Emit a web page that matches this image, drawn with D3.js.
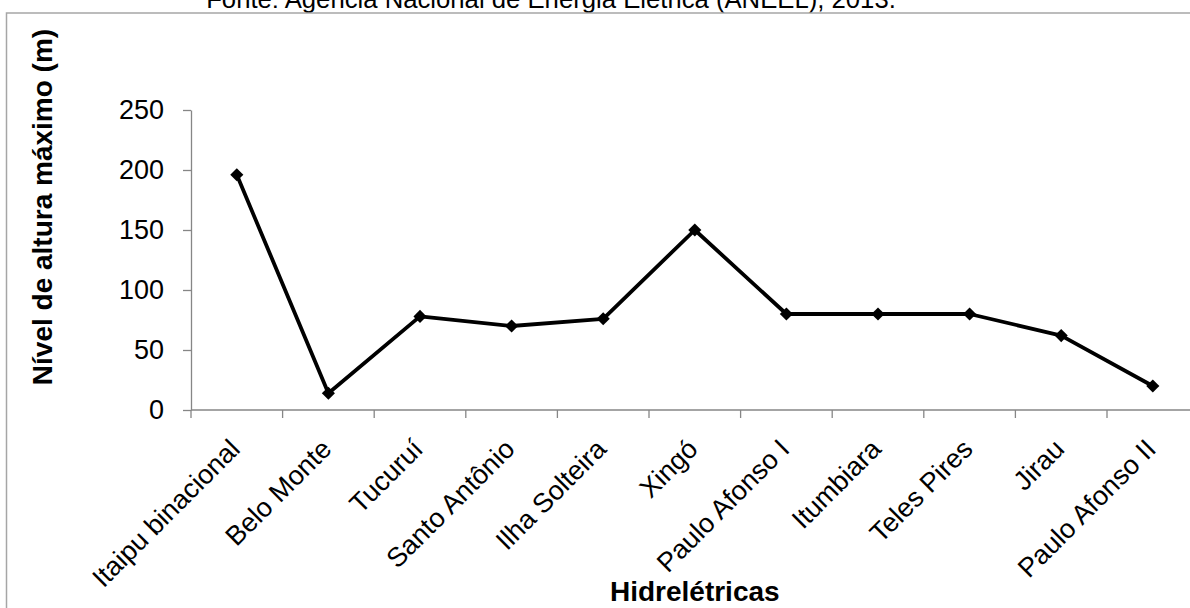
<!DOCTYPE html>
<html>
<head>
<meta charset="utf-8">
<script src="https://cdn.jsdelivr.net/npm/d3@7"></script>
<style>
  html, body { margin: 0; padding: 0; background: #fff; }
  svg { display: block; font-family: "Liberation Sans", Arial, sans-serif; }
</style>
</head>
<body>
<svg id="chart" width="1190" height="608"></svg>
<script>
// Maximum dam height of Brazilian hydroelectric plants
const plants = ["Itaipu binacional", "Belo Monte", "Tucuruí", "Santo Antônio", "Ilha Solteira",
                "Xingó", "Paulo Afonso I", "Itumbiara", "Teles Pires", "Jirau", "Paulo Afonso II"];
const heights = [196, 14, 78, 70, 76, 150, 80, 80, 80, 62, 20];
const yTicks = [0, 50, 100, 150, 200, 250];

const sourceText = "Fonte: Agência Nacional de Energia Elétrica (ANEEL), 2013.";
const xTitle = "Hidrelétricas";
const yTitle = "Nível de altura máximo (m)";

const svg = d3.select("#chart");
const W = 1190, H = 608;
const plot = { left: 191, top: 110, bottom: 410, band: 91.6 };

svg.append("rect").attr("width", W).attr("height", H).attr("fill", "#fff");

// source line above the chart frame
svg.append("text")
  .attr("x", 551).attr("y", 8)
  .attr("text-anchor", "middle")
  .attr("font-size", 25.7)
  .text(sourceText);

// chart frame
svg.append("rect")
  .attr("x", 6.5).attr("y", 13)
  .attr("width", 1300).attr("height", 700)
  .attr("fill", "none")
  .attr("stroke", "#a6a6a6")
  .attr("stroke-width", 1.5);

const x = d3.scaleBand()
  .domain(plants)
  .range([plot.left, plot.left + plot.band * plants.length])
  .paddingInner(0).paddingOuter(0);

const y = d3.scaleLinear().domain([0, 250]).range([plot.bottom, plot.top]);

const axisColor = "#868686";

// y axis
const yAxis = svg.append("g")
  .attr("transform", `translate(${plot.left},0)`)
  .call(d3.axisLeft(y).tickValues(yTicks).tickSize(8).tickPadding(19).tickSizeOuter(0));
yAxis.select(".domain").attr("stroke", axisColor).attr("stroke-width", 1.3);
yAxis.selectAll(".tick line").attr("stroke", axisColor).attr("stroke-width", 1.3);
yAxis.selectAll(".tick text")
  .attr("font-size", 27)
  .attr("font-family", "Liberation Sans, Arial, sans-serif")
  .attr("fill", "#000");

// x axis: ticks between categories
const xAxisG = svg.append("g").attr("transform", `translate(0,${plot.bottom})`);
xAxisG.append("line")
  .attr("x1", plot.left).attr("x2", W)
  .attr("stroke", axisColor).attr("stroke-width", 1.3);
const boundaries = plants.map(p => x(p)).concat([x(plants[plants.length - 1]) + x.bandwidth()]);
xAxisG.selectAll("line.tk").data(boundaries).join("line")
  .attr("class", "tk")
  .attr("x1", d => d).attr("x2", d => d)
  .attr("y1", 0).attr("y2", 8)
  .attr("stroke", axisColor).attr("stroke-width", 1.3);

// rotated category labels
svg.append("g").selectAll("text").data(plants).join("text")
  .attr("transform", d => `translate(${x(d) + x.bandwidth() / 2 - 2},${plot.bottom + 34}) rotate(-45)`)
  .attr("text-anchor", "end")
  .attr("dy", "0.35em")
  .attr("font-size", 27)
  .text(d => d);

// axis titles
svg.append("text")
  .attr("x", plot.left + plot.band * plants.length / 2)
  .attr("y", 601)
  .attr("text-anchor", "middle")
  .attr("font-weight", "bold")
  .attr("font-size", 28)
  .text(xTitle);

svg.append("text")
  .attr("transform", "translate(52,207) rotate(-90)")
  .attr("text-anchor", "middle")
  .attr("font-weight", "bold")
  .attr("font-size", 28)
  .text(yTitle);

// series line with diamond markers
const cx = d => x(d) + x.bandwidth() / 2;
const line = d3.line().x(d => cx(d.name)).y(d => y(d.value));
const pts = plants.map((name, i) => ({ name, value: heights[i] }));

svg.append("path")
  .datum(pts)
  .attr("d", line)
  .attr("fill", "none")
  .attr("stroke", "#000")
  .attr("stroke-width", 3.8)
  .attr("stroke-linejoin", "round");

svg.append("g").selectAll("path").data(pts).join("path")
  .attr("transform", d => `translate(${cx(d.name)},${y(d.value)})`)
  .attr("d", d3.symbol().type(d3.symbolDiamond2).size(110))
  .attr("fill", "#000");
</script>
</body>
</html>
